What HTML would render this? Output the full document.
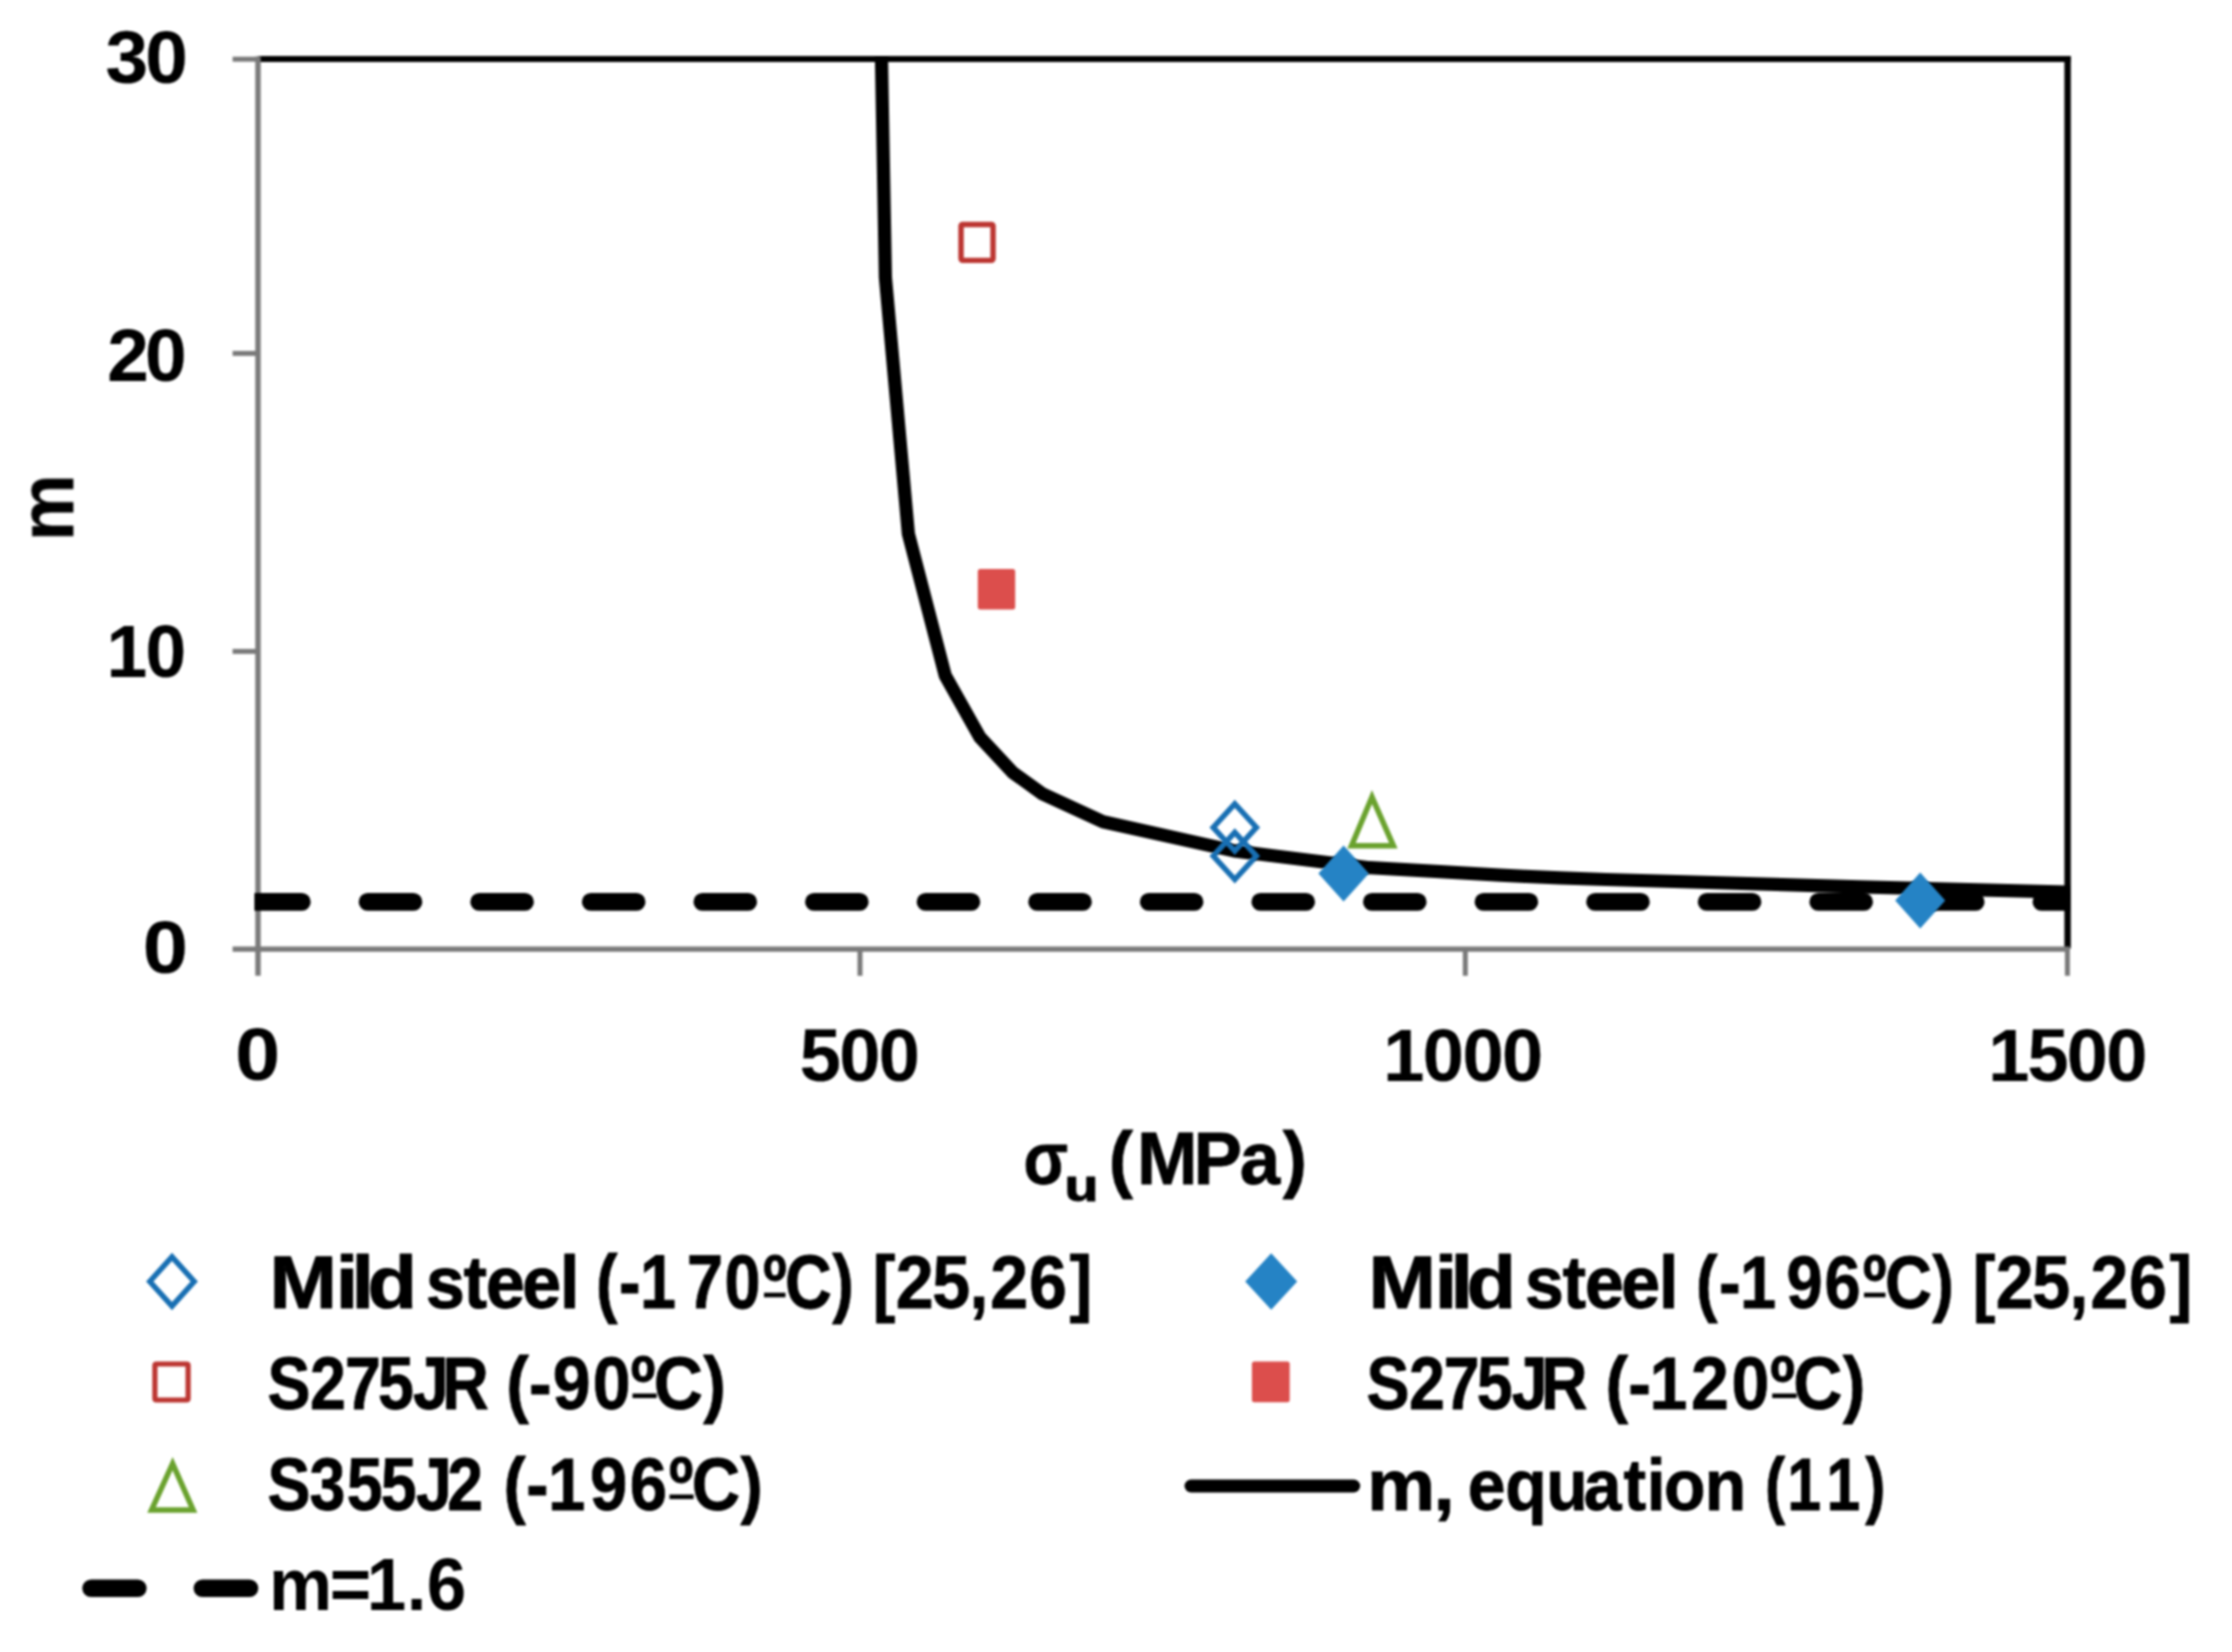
<!DOCTYPE html>
<html><head><meta charset="utf-8"><title>m vs sigma_u</title>
<style>
html,body{margin:0;padding:0;background:#fff;}
body{width:2232px;height:1652px;overflow:hidden;}
svg{display:block;}
svg text{font-family:'Liberation Sans', sans-serif;font-weight:bold;}
</style></head><body>
<svg width="2232" height="1652" viewBox="0 0 2232 1652">
<rect width="2232" height="1652" fill="#fff"/>
<defs><filter id="fs" color-interpolation-filters="sRGB" x="0" y="0" width="2232" height="1652" filterUnits="userSpaceOnUse"><feGaussianBlur stdDeviation="1.2"/></filter><filter id="fh" color-interpolation-filters="sRGB" x="0" y="0" width="2232" height="1652" filterUnits="userSpaceOnUse"><feGaussianBlur stdDeviation="0.9"/></filter></defs>
<g filter="url(#fh)">

<line x1="258.0" y1="59.0" x2="2070.7" y2="59.0" stroke="#000" stroke-width="6.2"/>
<line x1="2067.6" y1="56" x2="2067.6" y2="948.5" stroke="#000" stroke-width="6.4"/>
<line x1="258.0" y1="56.6" x2="258.0" y2="975.8" stroke="#7a7a7a" stroke-width="5.4"/>
<line x1="232.6" y1="949.1" x2="2069.8" y2="949.1" stroke="#7a7a7a" stroke-width="5.4"/>
<line x1="232.6" y1="59.2" x2="258.0" y2="59.2" stroke="#7a7a7a" stroke-width="5.0"/>
<line x1="232.6" y1="353.4" x2="258.0" y2="353.4" stroke="#7a7a7a" stroke-width="5.0"/>
<line x1="232.6" y1="651.4" x2="258.0" y2="651.4" stroke="#7a7a7a" stroke-width="5.0"/>
<line x1="860.0" y1="949.1" x2="860.0" y2="975.8" stroke="#7a7a7a" stroke-width="5.0"/>
<line x1="1465.3" y1="949.1" x2="1465.3" y2="975.8" stroke="#7a7a7a" stroke-width="5.0"/>
<line x1="2067.4" y1="949.1" x2="2067.4" y2="975.8" stroke="#7a7a7a" stroke-width="5.0"/>

</g>
<g filter="url(#fs)">
<clipPath id="pc"><rect x="254.6" y="58" width="1813.9" height="894"/></clipPath>
<g clip-path="url(#pc)">
<polyline fill="none" stroke="#000" stroke-width="13.2" stroke-linejoin="round" points="881.2,40.0 881.5,59.0 885.4,277.3 908.4,533.8 945.2,675.4 979.9,737.2 1012.5,772.3 1042.8,794.1 1103.0,821.8 1234.0,850.9 1369.6,867.7 1440.0,871.7 1500.0,875.2 1560.0,877.9 1606.0,879.5 1860.0,886.8 2069.0,892.2"/>
<line x1="256.01" y1="901.9" x2="2080" y2="901.9" stroke="#000" stroke-width="17.8" stroke-linecap="round" stroke-dasharray="45.80 65.79"/>
</g>

</g>
<g filter="url(#fs)">

<polygon points="1234.8,803.8 1256.3999999999999,827.4 1234.8,851.0 1213.2,827.4" fill="none" stroke="#186fb3" stroke-width="5.5" stroke-linejoin="miter"/>
<polygon points="1234.8,832.3 1256.3999999999999,855.9 1234.8,879.5 1213.2,855.9" fill="none" stroke="#186fb3" stroke-width="5.5" stroke-linejoin="miter"/>
<polygon points="1343.6,845.5 1368.8,873.5 1343.6,901.5 1318.3999999999999,873.5" fill="#2583c5"/>
<polygon points="1920.2,872.5 1945.2,900.5 1920.2,928.5 1895.2,900.5" fill="#2583c5"/>
<rect x="961.05" y="224.45" width="32.0" height="35.9" fill="none" stroke="#bc3531" stroke-width="5.4" rx="1.5"/>
<rect x="977.80" y="569.00" width="37.4" height="40.4" fill="#dc4e4c" rx="2.5"/>
<polygon points="1372.00,797.04 1393.42,845.85 1351.48,845.85" fill="none" stroke="#6aa22e" stroke-width="5.5" stroke-linejoin="miter"/>
<polygon points="172.0,1256.9 194.2,1281.5 172.0,1306.1 149.8,1281.5" fill="none" stroke="#186fb3" stroke-width="5.5" stroke-linejoin="miter"/>
<polygon points="1271.2,1253.3 1297.2,1281.5 1271.2,1309.7 1245.2,1281.5" fill="#2583c5"/>
<rect x="154.90" y="1364.00" width="33.2" height="36.0" fill="none" stroke="#bc3531" stroke-width="5.2" rx="1.5"/>
<rect x="1251.90" y="1361.50" width="37.8" height="40.8" fill="#dc4e4c" rx="2.5"/>
<polygon points="172.60,1463.61 193.14,1509.95 151.56,1509.95" fill="none" stroke="#6aa22e" stroke-width="5.5" stroke-linejoin="miter"/>
<line x1="1191.0" y1="1486" x2="1353.7" y2="1486" stroke="#000" stroke-width="13" stroke-linecap="round"/>
<line x1="91.1" y1="1588.2" x2="137.79999999999998" y2="1588.2" stroke="#000" stroke-width="17.6" stroke-linecap="round"/>
<line x1="202.4" y1="1588.2" x2="249.5" y2="1588.2" stroke="#000" stroke-width="17.6" stroke-linecap="round"/>
<text transform="translate(0,83.40) scale(1.0351,1.0000)" x="101.88 140.34" y="0" font-size="74" fill="#000" stroke="#000" stroke-width="0.20" stroke-linejoin="round" xml:space="preserve">30</text>
<text transform="translate(0,381.30) scale(1.0124,1.0000)" x="105.95 143.29" y="0" font-size="74" fill="#000" stroke="#000" stroke-width="0.20" stroke-linejoin="round" xml:space="preserve">20</text>
<text transform="translate(0,676.60) scale(0.9881,1.0000)" x="107.91 147.32" y="0" font-size="74" fill="#000" stroke="#000" stroke-width="0.20" stroke-linejoin="round" xml:space="preserve">10</text>
<text transform="translate(0,972.80) scale(1.0996,1.0000)" x="129.84" y="0" font-size="74" fill="#000" stroke="#000" stroke-width="0.19" stroke-linejoin="round" xml:space="preserve">0</text>
<text transform="translate(0,1080.00) scale(1.0911,1.0000)" x="215.57" y="0" font-size="74" fill="#000" stroke="#000" stroke-width="0.19" stroke-linejoin="round" xml:space="preserve">0</text>
<text transform="translate(0,1080.60) scale(1.0000,1.0000)" x="799.72 839.20 878.68" y="0" font-size="74" fill="#000" stroke="#000" stroke-width="0.2" stroke-linejoin="round" xml:space="preserve">500</text>
<text transform="translate(0,1080.60) scale(1.0000,1.0000)" x="1383.24 1422.82 1462.40 1501.98" y="0" font-size="74" fill="#000" stroke="#000" stroke-width="0.2" stroke-linejoin="round" xml:space="preserve">1000</text>
<text transform="translate(0,1080.60) scale(1.0000,1.0000)" x="1988.24 2027.55 2066.87 2106.18" y="0" font-size="74" fill="#000" stroke="#000" stroke-width="0.2" stroke-linejoin="round" xml:space="preserve">1500</text>
<text transform="translate(0,1184.00) scale(0.8697,1.0000)" x="1176.76" y="0" font-size="75" fill="#000" stroke="#000" stroke-width="0.86" stroke-linejoin="round" xml:space="preserve">σ</text>
<text transform="translate(0,1201.00) scale(1.2613,1.0000)" x="843.94" y="0" font-size="44" fill="#000" stroke="#000" stroke-width="1.06" stroke-linejoin="round" xml:space="preserve">u</text>
<text transform="translate(0,1184.00) scale(0.9700,1.0000)" x="1143.00 1172.16 1230.35 1277.99 1322.47" y="0" font-size="75" fill="#000" stroke="#000" stroke-width="0.81" stroke-linejoin="round" xml:space="preserve">(MPa)</text>
<g transform="translate(73.4,507.6) rotate(-90)">
<text transform="scale(0.9701,1)" x="-34.83" y="0" font-size="78" fill="#000" stroke="#000" stroke-width="0.2">m</text>
</g>
<g>
<text transform="translate(0,1308.20) scale(1.0800,1.0000)" x="249.46 310.96 325.43 340.29" y="0" font-size="75" fill="#000" stroke="#000" stroke-width="1.06" stroke-linejoin="round" xml:space="preserve">Mild</text>
<text transform="translate(0,1308.20) scale(0.9300,1.0000)" x="458.06 498.58 522.50 561.52 602.25" y="0" font-size="75" fill="#000" stroke="#000" stroke-width="1.14" stroke-linejoin="round" xml:space="preserve">steel</text>
<text transform="translate(0,1308.20) scale(0.8627,1.0000)" x="690.79 717.40 741.81 796.26 839.86 884.32 910.02 964.72" y="0" font-size="75" fill="#000" stroke="#000" stroke-width="0.86" stroke-linejoin="round" xml:space="preserve">(-170ºC)</text>
<line x1="764.0" y1="1295.0" x2="785.5" y2="1295.0" stroke="#000" stroke-width="4.6"/>
<text transform="translate(0,1308.20) scale(0.9082,1.0000)" x="960.94 986.19 1026.56 1067.52 1090.46 1133.02 1177.63" y="0" font-size="75" fill="#000" stroke="#000" stroke-width="0.84" stroke-linejoin="round" xml:space="preserve">[25,26]</text>
</g>
<g>
<text transform="translate(0,1308.20) scale(1.0800,1.0000)" x="1267.05 1328.55 1343.02 1357.88" y="0" font-size="75" fill="#000" stroke="#000" stroke-width="1.06" stroke-linejoin="round" xml:space="preserve">Mild</text>
<text transform="translate(0,1308.20) scale(0.9300,1.0000)" x="1639.78 1680.30 1704.22 1743.24 1783.97" y="0" font-size="75" fill="#000" stroke="#000" stroke-width="1.14" stroke-linejoin="round" xml:space="preserve">steel</text>
<text transform="translate(0,1308.20) scale(0.8657,1.0000)" x="1959.09 1985.62 2009.92 2063.77 2107.56 2151.68 2177.37 2232.07" y="0" font-size="75" fill="#000" stroke="#000" stroke-width="0.86" stroke-linejoin="round" xml:space="preserve">(-196ºC)</text>
<line x1="1864.0" y1="1295.0" x2="1885.5" y2="1295.0" stroke="#000" stroke-width="4.6"/>
<text transform="translate(0,1308.20) scale(0.9082,1.0000)" x="2172.15 2197.40 2237.77 2278.73 2301.67 2344.23 2388.84" y="0" font-size="75" fill="#000" stroke="#000" stroke-width="0.84" stroke-linejoin="round" xml:space="preserve">[25,26]</text>
</g>
<g>
<text transform="translate(0,1409.00) scale(0.8600,1.0000)" x="311.10 360.39 401.09 439.53 480.34 514.24" y="0" font-size="75" fill="#000" stroke="#000" stroke-width="0.86" stroke-linejoin="round" xml:space="preserve">S275JR</text>
<text transform="translate(0,1409.00) scale(0.9068,1.0000)" x="558.16 583.41 609.67 653.63 695.34 720.91 775.48" y="0" font-size="75" fill="#000" stroke="#000" stroke-width="0.84" stroke-linejoin="round" xml:space="preserve">(-90ºC)</text>
<line x1="632.5" y1="1395.8" x2="656.7" y2="1395.8" stroke="#000" stroke-width="4.6"/>
</g>
<g>
<text transform="translate(0,1409.00) scale(0.8600,1.0000)" x="1589.00 1638.36 1678.65 1717.09 1757.90 1791.79" y="0" font-size="75" fill="#000" stroke="#000" stroke-width="0.86" stroke-linejoin="round" xml:space="preserve">S275JR</text>
<text transform="translate(0,1409.00) scale(0.9066,1.0000)" x="1771.02 1795.94 1819.47 1865.11 1910.02 1952.36 1977.93 2032.51" y="0" font-size="75" fill="#000" stroke="#000" stroke-width="0.84" stroke-linejoin="round" xml:space="preserve">(-120ºC)</text>
<line x1="1772.2" y1="1395.8" x2="1796.7" y2="1395.8" stroke="#000" stroke-width="4.6"/>
</g>
<g>
<text transform="translate(0,1510.00) scale(0.8600,1.0000)" x="311.10 359.81 403.10 442.79 483.61 519.92" y="0" font-size="75" fill="#000" stroke="#000" stroke-width="0.86" stroke-linejoin="round" xml:space="preserve">S355J2</text>
<text transform="translate(0,1510.00) scale(0.8937,1.0000)" x="563.32 588.86 613.32 660.27 704.80 748.36 773.97 828.58" y="0" font-size="75" fill="#000" stroke="#000" stroke-width="0.84" stroke-linejoin="round" xml:space="preserve">(-196ºC)</text>
<line x1="669.5" y1="1496.8" x2="693.6" y2="1496.8" stroke="#000" stroke-width="4.6"/>
</g>
<g>
<text transform="translate(0,1510.00) scale(1.0500,1.0000)" x="1301.83 1365.16" y="0" font-size="73" fill="#000" stroke="#000" stroke-width="0.88" stroke-linejoin="round" xml:space="preserve">m,</text>
<text transform="translate(0,1510.00) scale(0.9300,1.0000)" x="1578.23 1618.54 1662.74 1703.01 1745.76 1770.70 1789.37 1833.15" y="0" font-size="73" fill="#000" stroke="#000" stroke-width="0.93" stroke-linejoin="round" xml:space="preserve">equation</text>
<text transform="translate(0,1510.00) scale(0.8097,1.0000)" x="2179.70 2207.35 2255.88 2303.52" y="0" font-size="75" fill="#000" stroke="#000" stroke-width="0.88" stroke-linejoin="round" xml:space="preserve">(11)</text>
</g>
<g>
<text transform="translate(0,1610.30) scale(0.9471,1.0000)" x="283.91 348.23 387.20 429.45 450.53" y="0" font-size="75" fill="#000" xml:space="preserve">m=1.6</text>
</g>
</g>
</svg>
</body></html>
